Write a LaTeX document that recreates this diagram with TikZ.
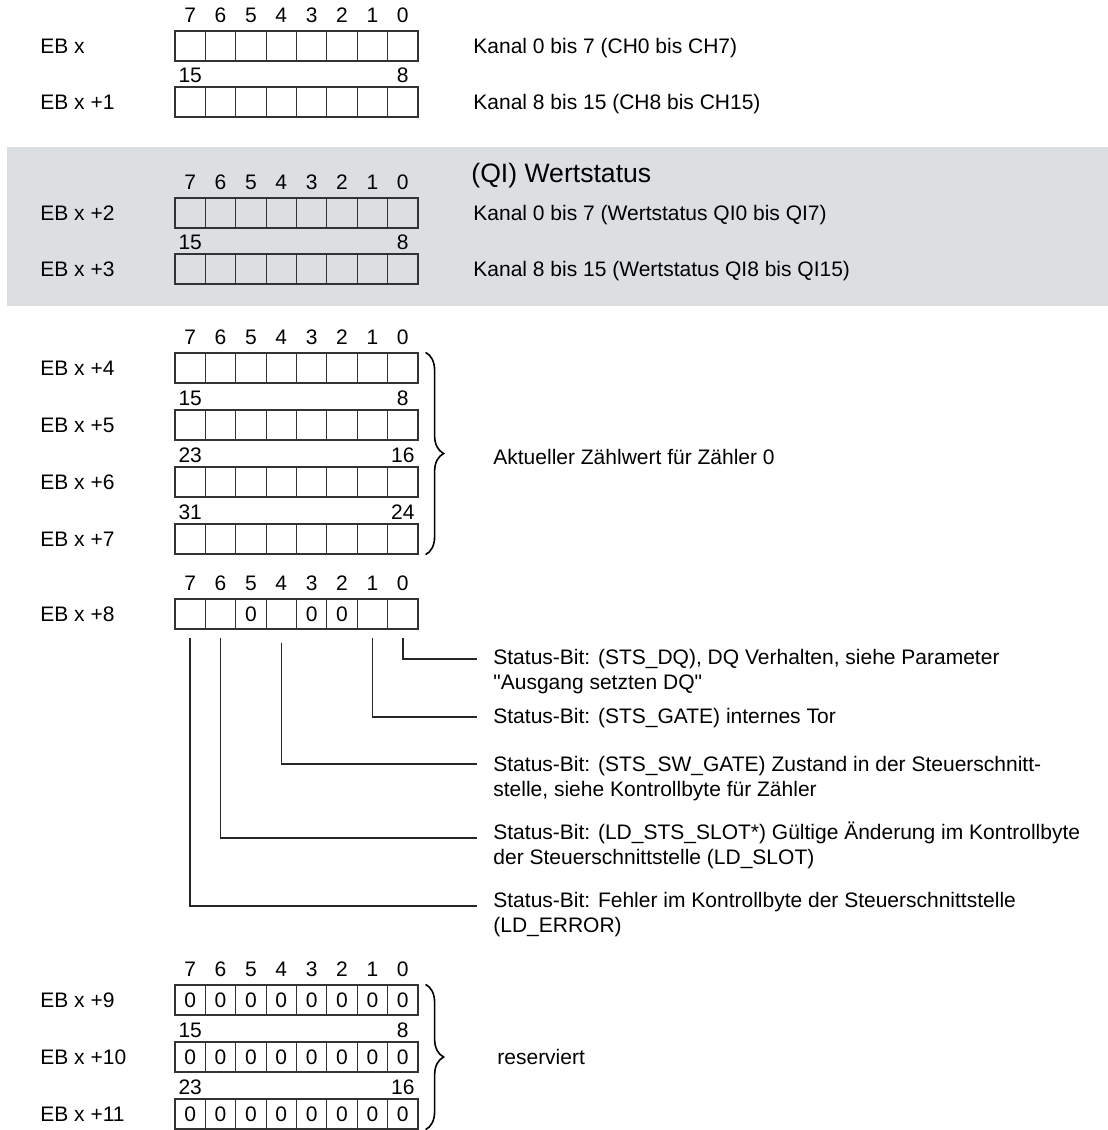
\documentclass[tikz,border=0pt]{standalone}
\usepackage{fontspec}
\setmainfont{Liberation Sans}
\usetikzlibrary{positioning,decorations.pathreplacing}
\definecolor{bandgray}{RGB}{220,223,226}
\newcommand{\txtfont}{\fontsize{10.5}{12.5}\selectfont}
% one byte = eight cells, bit 7 on the left
\newcommand{\bytecells}[3]{%
  \foreach \i in {0,...,7}{
    \node[bitcell] (#1-\i) at ({190.19+30.375*(7-\i)},{#2+15}) {#3};
  }
}
\tikzset{
    bitcell/.style={rectangle,draw=black!80,line width=0.6pt,minimum width=15.19pt,minimum height=15pt,inner sep=0pt,font=\txtfont},
    bitnum/.style={inner sep=0pt,font=\txtfont},
    bytename/.style={anchor=west,inner sep=0pt,font=\txtfont},
    bytetext/.style={anchor=west,inner sep=0pt,text height=7.5pt,text depth=0pt,font=\txtfont},
    bittext/.style={anchor=north west,inner sep=0pt,align=left,font=\txtfont},
    leader/.style={draw=black!85,line width=0.8pt},
    bytebrace/.style={decorate,decoration={brace,amplitude=9pt},line width=0.8pt}
}

\begin{document}
\begin{tikzpicture}[x=0.5pt,y=-0.5pt]
  \useasboundingbox (0,0) rectangle (1108,1130);
  \fill[bandgray] (7,147) rectangle (1108,306);

  % bytes
  \bytecells{eb0}{31}{}
  \bytecells{eb1}{87}{}
  \bytecells{eb2}{198}{}
  \bytecells{eb3}{254}{}
  \bytecells{eb4}{353}{}
  \bytecells{eb5}{410}{}
  \bytecells{eb6}{467}{}
  \bytecells{eb7}{524}{}
  \bytecells{eb8}{599}{}
  \bytecells{eb9}{985}{0}
  \bytecells{eb10}{1042}{0}
  \bytecells{eb11}{1099}{0}
  \foreach \i in {5,3,2}
    \node[bitnum] at (eb8-\i) {0};

  % bit numbers
  \foreach \b in {eb0,eb2,eb4,eb8,eb9}
    \foreach \i in {0,...,7}
      \node[bitnum,above=3.75pt of \b-\i] (\b-n\i) {\i};
  \foreach \b/\hi/\lo in {eb1/15/8,eb3/15/8,eb5/15/8,eb6/23/16,eb7/31/24,eb10/15/8,eb11/23/16}{
    \node[bitnum,above=1.75pt of \b-7] (\b-hi) {\hi};
    \node[bitnum,above=1.75pt of \b-0] (\b-lo) {\lo};
  }

  % byte names
  \node[bytename] (l0) at (40,0 |- eb0-7) {EB x};
  \node[bytename] (l1) at (40,0 |- eb1-7) {EB x +1};
  \node[bytename] (l2) at (40,0 |- eb2-7) {EB x +2};
  \node[bytename] (l3) at (40,0 |- eb3-7) {EB x +3};
  \node[bytename] (l4) at (40,0 |- eb4-7) {EB x +4};
  \node[bytename] (l5) at (40,0 |- eb5-7) {EB x +5};
  \node[bytename] (l6) at (40,0 |- eb6-7) {EB x +6};
  \node[bytename] (l7) at (40,0 |- eb7-7) {EB x +7};
  \node[bytename] (l8) at (40,0 |- eb8-7) {EB x +8};
  \node[bytename] (l9) at (40,0 |- eb9-7) {EB x +9};
  \node[bytename] (l10) at (40,0 |- eb10-7) {EB x +10};
  \node[bytename] (l11) at (40,0 |- eb11-7) {EB x +11};

  % meaning of the bytes
  \node[bytetext] (k0) at (473,0 |- eb0-7) {Kanal 0 bis 7 (CH0 bis CH7)};
  \node[bytetext] (k1) at (473,0 |- eb1-7) {Kanal 8 bis 15 (CH8 bis CH15)};
  \node[bytetext,text height=9.6pt,font=\fontsize{13.3}{16}\selectfont] (qi) at (471,173) {(QI) Wertstatus};
  \node[bytetext] (k2) at (473,0 |- eb2-7) {Kanal 0 bis 7 (Wertstatus QI0 bis QI7)};
  \node[bytetext] (k3) at (473,0 |- eb3-7) {Kanal 8 bis 15 (Wertstatus QI8 bis QI15)};

  \draw[bytebrace] ([xshift=3.5pt]eb4-0.north east) -- ([xshift=3.5pt]eb7-0.south east);
  \node[bytetext] (cnt) at (493,457) {Aktueller Zählwert für Zähler 0};

  \draw[bytebrace] ([xshift=3.5pt]eb9-0.north east) -- ([xshift=3.5pt]eb11-0.south east);
  \node[bytetext] (res) at (497,1057) {reserviert};

  % status bits of EB x +8
  \coordinate (t0) at (477,659);
  \coordinate (t1) at (477,717);
  \coordinate (t4) at (477,764);
  \coordinate (t6) at (477,838);
  \coordinate (t7) at (477,906);
  \node[bittext] (s0) at (493,649) {Status-Bit: (STS\_DQ), DQ Verhalten, siehe Parameter\\\textquotedbl Ausgang setzten DQ\textquotedbl};
  \node[bittext] (s1) at (493,708) {Status-Bit: (STS\_GATE) internes Tor};
  \node[bittext] (s4) at (493,756) {Status-Bit: (STS\_SW\_GATE) Zustand in der Steuerschnitt-\\stelle, siehe Kontrollbyte für Zähler};
  \node[bittext] (s6) at (493,822) {Status-Bit: (LD\_STS\_SLOT*) Gültige Änderung im Kontrollbyte\\der Steuerschnittstelle (LD\_SLOT)};
  \node[bittext] (s7) at (493,892) {Status-Bit: Fehler im Kontrollbyte der Steuerschnittstelle\\(LD\_ERROR)};
  \draw[leader] ([yshift=-4pt]eb8-0.south) |- (t0);
  \draw[leader] ([yshift=-4pt]eb8-1.south) |- (t1);
  \draw[leader] ([yshift=-6.5pt]eb8-4.south) |- (t4);
  \draw[leader] ([yshift=-4pt]eb8-6.south) |- (t6);
  \draw[leader] ([yshift=-4pt]eb8-7.south) |- (t7);
\end{tikzpicture}
\end{document}
